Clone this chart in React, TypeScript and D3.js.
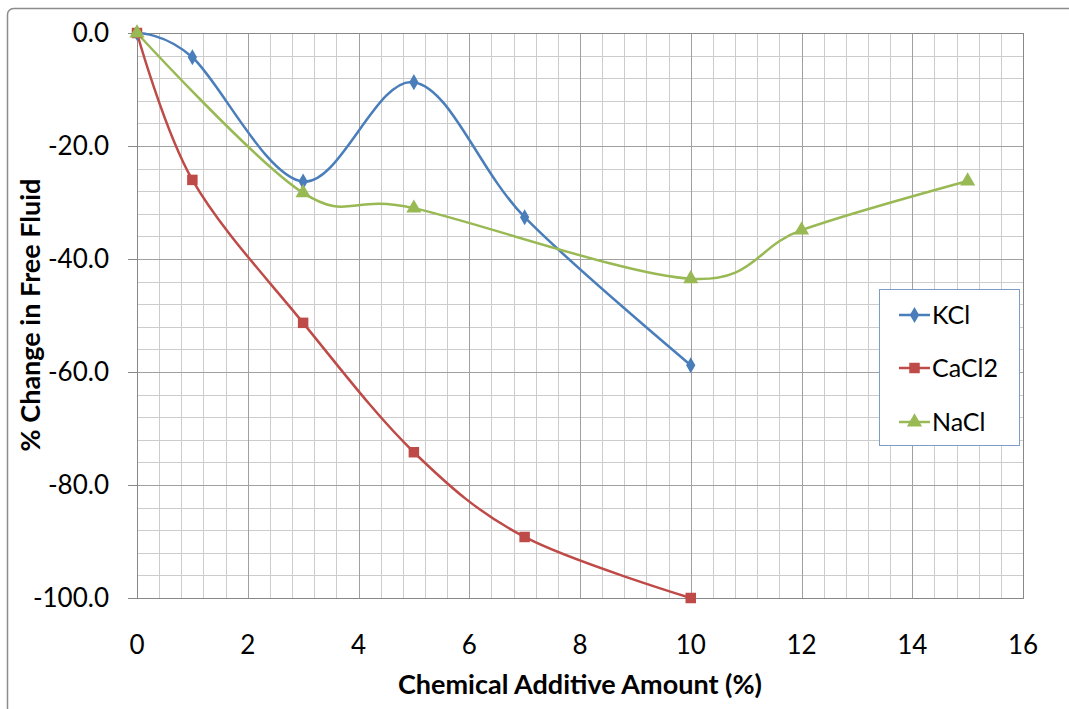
import React, { useEffect, useRef } from "react";
import * as d3 from "d3";

const kclX = [0, 1, 3, 5, 7, 10];
const kclY = [0, -4.3, -26.3, -8.7, -32.6, -58.8];
const cacl2X = [0, 1, 3, 5, 7, 10];
const cacl2Y = [0, -26.0, -51.3, -74.2, -89.2, -100];
const naclX = [0, 3, 5, 10, 12, 15];
const naclY = [0, -28.3, -31.0, -43.5, -34.9, -26.2];
const seriesNames = ["KCl", "CaCl2", "NaCl"];
const seriesColors = ["#4a7ebb", "#be4b48", "#98b954"];
const xTicks = [0, 2, 4, 6, 8, 10, 12, 14, 16];
const yTicks = [0, -20, -40, -60, -80, -100];

export default function App() {
  const ref = useRef<SVGSVGElement>(null);
  useEffect(() => {
    const svg = d3.select(ref.current);
    svg.selectAll("*").remove();
    const W = 1069, H = 709;
    const L = 137, R = 1023, T = 33, B = 598;
    const x = d3.scaleLinear().domain([0, 16]).range([L, R]);
    const y = d3.scaleLinear().domain([-100, 0]).range([B, T]);
    const font = "Lato, 'Open Sans', sans-serif";

    svg.append("rect").attr("x", 0).attr("y", 0).attr("width", W).attr("height", H).attr("fill", "#fff");
    svg.append("rect").attr("x", 7.5).attr("y", 8.5).attr("width", W + 20).attr("height", H + 20)
      .attr("rx", 6).attr("fill", "none").attr("stroke", "#8c8c8c").attr("stroke-width", 1.5);

    const g = svg.append("g");
    for (let v = 0; v <= 16.001; v += 0.4) {
      const isMajor = Math.abs(v / 2 - Math.round(v / 2)) < 1e-6;
      if (isMajor) continue;
      g.append("line").attr("x1", Math.round(x(v)) + 0.5).attr("x2", Math.round(x(v)) + 0.5)
        .attr("y1", T).attr("y2", B).attr("stroke", "#cccccc").attr("stroke-width", 1);
    }
    for (let v = 0; v >= -100; v -= 4) {
      if (v % 20 === 0) continue;
      g.append("line").attr("y1", Math.round(y(v)) + 0.5).attr("y2", Math.round(y(v)) + 0.5)
        .attr("x1", L).attr("x2", R).attr("stroke", "#cccccc").attr("stroke-width", 1);
    }
    xTicks.forEach(v => {
      g.append("line").attr("x1", Math.round(x(v)) + 0.5).attr("x2", Math.round(x(v)) + 0.5)
        .attr("y1", T).attr("y2", B).attr("stroke", "#a0a0a0").attr("stroke-width", 1);
    });
    yTicks.forEach(v => {
      g.append("line").attr("y1", Math.round(y(v)) + 0.5).attr("y2", Math.round(y(v)) + 0.5)
        .attr("x1", L).attr("x2", R).attr("stroke", "#a0a0a0").attr("stroke-width", 1);
    });
    g.append("rect").attr("x", L + 0.5).attr("y", T + 0.5).attr("width", R - L).attr("height", B - T)
      .attr("fill", "none").attr("stroke", "#888").attr("stroke-width", 1);
    yTicks.forEach(v => {
      g.append("line").attr("x1", L - 9).attr("x2", L).attr("y1", Math.round(y(v)) + 0.5).attr("y2", Math.round(y(v)) + 0.5)
        .attr("stroke", "#888");
    });

    yTicks.forEach(v => {
      svg.append("text").attr("x", 109).attr("y", y(v)).attr("dy", "0.36em").attr("text-anchor", "end")
        .attr("font-family", font).attr("font-size", 26).attr("fill", "#000").text(v.toFixed(1));
    });
    xTicks.forEach(v => {
      svg.append("text").attr("x", x(v)).attr("y", 645).attr("dy", "0.36em").attr("text-anchor", "middle")
        .attr("font-family", font).attr("font-size", 26).attr("fill", "#000").text(String(v));
    });
    svg.append("text").attr("x", 580).attr("y", 694).attr("text-anchor", "middle")
      .attr("font-family", font).attr("font-size", 27).attr("font-weight", "bold").text("Chemical Additive Amount (%)");
    svg.append("text").attr("transform", "translate(40,315) rotate(-90)").attr("text-anchor", "middle")
      .attr("font-family", font).attr("font-size", 27).attr("font-weight", "bold").text("% Change in Free Fluid");

    const data = [
      kclX.map((v, i) => [v, kclY[i]]),
      cacl2X.map((v, i) => [v, cacl2Y[i]]),
      naclX.map((v, i) => [v, naclY[i]]),
    ];
    const line = d3.line<number[]>().x(d => x(d[0])).y(d => y(d[1])).curve(d3.curveCardinal.tension(0));
    const symbols = [d3.symbolDiamond, d3.symbolSquare, d3.symbolTriangle];
    const sizes = [75, 110, 100];

    data.forEach((pts, i) => {
      svg.append("path").attr("d", line(pts as any)).attr("fill", "none")
        .attr("stroke", seriesColors[i]).attr("stroke-width", 2.5);
    });
    data.forEach((pts, i) => {
      pts.forEach(p => {
        svg.append("path").attr("d", d3.symbol().type(symbols[i]).size(sizes[i])())
          .attr("transform", `translate(${x(p[0])},${y(p[1])})`).attr("fill", seriesColors[i]);
      });
    });

    const lg = svg.append("g");
    lg.append("rect").attr("x", 879.5).attr("y", 289.5).attr("width", 140).attr("height", 156)
      .attr("fill", "#fff").attr("stroke", "#7f9cc6").attr("stroke-width", 1);
    const ly = [315, 368, 422];
    seriesNames.forEach((n, i) => {
      lg.append("line").attr("x1", 899).attr("x2", 930).attr("y1", ly[i]).attr("y2", ly[i])
        .attr("stroke", seriesColors[i]).attr("stroke-width", 2.5);
      lg.append("path").attr("d", d3.symbol().type(symbols[i]).size(sizes[i])())
        .attr("transform", `translate(914.5,${ly[i]})`).attr("fill", seriesColors[i]);
      lg.append("text").attr("x", 932).attr("y", ly[i]).attr("dy", "0.36em")
        .attr("font-family", font).attr("font-size", 25).text(n);
    });
  }, []);
  return <svg ref={ref} width={1069} height={709} style={{ position: "absolute", left: 0, top: 0 }} />;
}
